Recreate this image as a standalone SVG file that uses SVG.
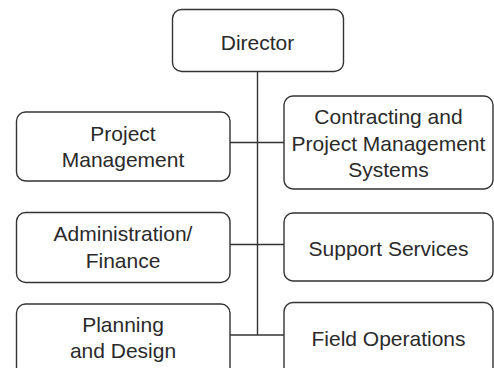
<svg xmlns="http://www.w3.org/2000/svg" width="494" height="368" viewBox="0 0 494 368">
<style>
.box{fill:#fff;stroke:#333;stroke-width:1.4}
.lbl{font-family:"Liberation Sans",Arial,sans-serif;font-size:21px;fill:#2a2a2a;text-anchor:middle}
.conn{stroke:#333;stroke-width:1.4;fill:none}
</style>
<rect width="494" height="368" fill="#fff"/>
<g id="connectors">
<line class="conn" x1="257.5" y1="72" x2="257.5" y2="335"/>
<line class="conn" x1="230" y1="142.5" x2="284" y2="142.5"/>
<line class="conn" x1="230" y1="244.5" x2="284" y2="244.5"/>
<line class="conn" x1="230" y1="335" x2="284" y2="335"/>
</g>
<g id="director">
<rect class="box" x="172.5" y="9.5" width="171" height="62" rx="9"/>
<text class="lbl" x="257.5" y="50">Director</text>
</g>
<g id="project-management">
<rect class="box" x="16.5" y="112" width="213.5" height="69" rx="9"/>
<text class="lbl" x="123" y="140.5">Project</text>
<text class="lbl" x="123" y="167">Management</text>
</g>
<g id="contracting">
<rect class="box" x="284" y="96" width="209" height="93" rx="9"/>
<text class="lbl" x="388.5" y="124">Contracting and</text>
<text class="lbl" x="388.5" y="150.5">Project Management</text>
<text class="lbl" x="388.5" y="176.5">Systems</text>
</g>
<g id="administration">
<rect class="box" x="16.5" y="212.5" width="213.5" height="70" rx="9"/>
<text class="lbl" x="123" y="241">Administration/</text>
<text class="lbl" x="123" y="267.5">Finance</text>
</g>
<g id="support-services">
<rect class="box" x="284" y="213" width="209" height="68" rx="9"/>
<text class="lbl" x="388.5" y="255.5">Support Services</text>
</g>
<g id="planning">
<rect class="box" x="16.5" y="304" width="213.5" height="75" rx="9"/>
<text class="lbl" x="123" y="332">Planning</text>
<text class="lbl" x="123" y="358">and Design</text>
</g>
<g id="field-operations">
<rect class="box" x="284" y="302.5" width="209" height="75" rx="9"/>
<text class="lbl" x="388.5" y="345.5">Field Operations</text>
</g>
</svg>
